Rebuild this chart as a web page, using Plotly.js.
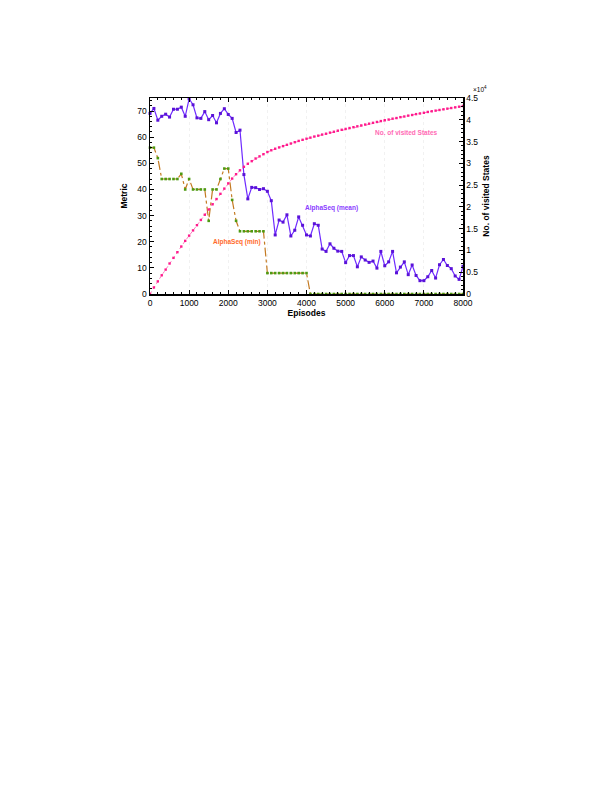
<!DOCTYPE html>
<html>
<head>
<meta charset="utf-8">
<script src="https://cdn.plot.ly/plotly-3.0.1.min.js"></script>
<style>
  html, body { margin: 0; padding: 0; background: #fff; }
  #chart { width: 608px; height: 787px; }
</style>
</head>
<body>
<div id="chart"></div>
<script>
// episodes sampled every 100
const episodes = [
  0, 100, 200, 300, 400, 500, 600, 700, 800, 900,
  1000, 1100, 1200, 1300, 1400, 1500, 1600, 1700, 1800, 1900,
  2000, 2100, 2200, 2300, 2400, 2500, 2600, 2700, 2800, 2900,
  3000, 3100, 3200, 3300, 3400, 3500, 3600, 3700, 3800, 3900,
  4000, 4100, 4200, 4300, 4400, 4500, 4600, 4700, 4800, 4900,
  5000, 5100, 5200, 5300, 5400, 5500, 5600, 5700, 5800, 5900,
  6000, 6100, 6200, 6300, 6400, 6500, 6600, 6700, 6800, 6900,
  7000, 7100, 7200, 7300, 7400, 7500, 7600, 7700, 7800, 7900,
  8000
];

const alphaSeqMean = [
  69.1, 71.0, 66.5, 68.0, 68.8, 67.7, 70.7, 70.7, 71.5, 68.0,
  74.7, 72.4, 67.4, 67.2, 69.8, 66.7, 68.3, 65.5, 69.1, 70.9,
  68.7, 67.2, 61.8, 62.7, 45.7, 36.4, 40.8, 40.7, 40.0, 40.3,
  39.3, 35.7, 22.6, 28.3, 27.5, 30.3, 22.2, 24.4, 29.5, 26.3,
  22.6, 22.2, 26.9, 26.3, 17.2, 16.3, 19.2, 17.5, 16.4, 16.3,
  12.0, 14.7, 14.7, 10.4, 14.2, 13.0, 12.1, 12.6, 9.9, 16.3,
  10.8, 12.3, 16.3, 8.1, 10.3, 12.3, 7.4, 11.1, 7.1, 5.1,
  5.1, 6.6, 9.0, 6.1, 11.2, 13.2, 10.9, 9.7, 6.9, 5.6,
  10.6
];

const alphaSeqMin = [
  56, 56, 52, 44, 44, 44, 44, 44, 46, 40,
  44, 40, 40, 40, 40, 28, 40, 40, 44, 48,
  48, 36, 28, 24, 24, 24, 24, 24, 24, 24,
  8, 8, 8, 8, 8, 8, 8, 8, 8, 8,
  8, 0, 0, 0, 0, 0, 0, 0, 0, 0,
  0, 0, 0, 0, 0, 0, 0, 0, 0, 0,
  0, 0, 0, 0, 0, 0, 0, 0, 0, 0,
  0, 0, 0, 0, 0, 0, 0, 0, 0, 0,
  0
];

const visitedStates = [
  0, 1500, 2900, 4300, 5600, 7000, 8300, 9600, 10900, 12200,
  13400, 14600, 15800, 17000, 18200, 19400, 20600, 21800, 23000, 24200,
  25400, 26500, 27500, 28400, 29200, 29900, 30500, 31100, 31600, 32100,
  32600, 33000, 33350, 33650, 33950, 34250, 34550, 34850, 35150, 35400,
  35650, 35900, 36150, 36350, 36600, 36800, 37050, 37250, 37500, 37700,
  37900, 38100, 38300, 38500, 38700, 38900, 39100, 39300, 39500, 39700,
  39900, 40050, 40250, 40400, 40600, 40750, 40950, 41100, 41300, 41450,
  41600, 41800, 41950, 42100, 42250, 42400, 42550, 42700, 42850, 43000,
  43150
];

const rightTickVals = [0, 5000, 10000, 15000, 20000, 25000, 30000, 35000, 40000, 45000];
const rightTickText = ["0", "0.5", "1", "1.5", "2", "2.5", "3", "3.5", "4", "4.5"];

const font = "Liberation Sans, Arial, sans-serif";

const traces = [
  {
    x: episodes, y: alphaSeqMin, name: "AlphaSeq (min)",
    type: "scatter", mode: "lines+markers", cliponaxis: false,
    line: { color: "#c47a22", width: 1.2, dash: "dashdot" },
    marker: { symbol: "square", size: 2.6, color: "#4e9a12" },
  },
  {
    x: episodes, y: alphaSeqMean, name: "AlphaSeq (mean)",
    type: "scatter", mode: "lines+markers", cliponaxis: false,
    line: { color: "#6f2bff", width: 1.2 },
    marker: { symbol: "square", size: 3, color: "#5a12d8" },
  },
  {
    x: episodes, y: visitedStates, name: "No. of visited States", yaxis: "y2",
    type: "scatter", mode: "lines+markers",
    line: { color: "#ff5aae", width: 0.8, dash: "dot" },
    marker: { symbol: "square", size: 2.4, color: "#ff1a8c" },
  },
];

const axisCommon = {
  showline: true, linecolor: "#000", linewidth: 1.5,
  ticks: "inside", ticklen: 4, tickwidth: 1, tickcolor: "#000",
  tickfont: { family: font, size: 8.5, color: "#000" },
  zeroline: false,
};

const layout = {
  width: 608, height: 787,
  margin: { l: 149.5, r: 145, t: 97.5, b: 493 },
  paper_bgcolor: "#fff", plot_bgcolor: "#fff",
  showlegend: false,
  font: { family: font, size: 8.5, color: "#000" },
  xaxis: Object.assign({}, axisCommon, {
    range: [0, 8000], dtick: 1000, mirror: "ticks",
    showgrid: true, gridcolor: "#e4e4e4", gridwidth: 0.5, griddash: "dot",
    minor: { ticks: "inside", dtick: 200, ticklen: 2, tickcolor: "#000", showgrid: false },
    title: { text: "<b>Episodes</b>", font: { family: font, size: 8.5 }, standoff: 1 },
  }),
  yaxis: Object.assign({}, axisCommon, {
    range: [0, 75], dtick: 10, showgrid: false,
    minor: { ticks: "inside", dtick: 2, ticklen: 2, tickcolor: "#000", showgrid: false },
    title: { text: "<b>Metric</b>", font: { family: font, size: 8.5 }, standoff: 8 },
  }),
  yaxis2: Object.assign({}, axisCommon, {
    overlaying: "y", side: "right", range: [0, 45000],
    tickvals: rightTickVals, ticktext: rightTickText, showgrid: false,
    minor: { ticks: "inside", dtick: 1000, ticklen: 2, tickcolor: "#000", showgrid: false },
    title: { text: "<b>No. of visited States</b>", font: { family: font, size: 8.5 }, standoff: 6 },
  }),
  annotations: [
    { x: 5710, y: 37170, xref: "x", yref: "y2", text: "<b>No. of visited States</b>", showarrow: false,
      font: { family: font, size: 6.5, color: "#ff6ab4" }, xanchor: "left" },
    { x: 3900, y: 33, xref: "x", yref: "y", text: "<b>AlphaSeq (mean)</b>", showarrow: false,
      font: { family: font, size: 6.5, color: "#8a3cff" }, xanchor: "left" },
    { x: 1565, y: 20, xref: "x", yref: "y", text: "<b>AlphaSeq (min)</b>", showarrow: false,
      font: { family: font, size: 6.5, color: "#ff6a2a" }, xanchor: "left" },
    { x: 1, y: 1, xref: "paper", yref: "paper", text: "×10<sup>4</sup>", showarrow: false,
      font: { family: font, size: 6.5, color: "#000" }, xanchor: "left", yanchor: "bottom",
      xshift: 8, yshift: 3 },
  ],
};

Plotly.newPlot("chart", traces, layout, { displayModeBar: false, staticPlot: true });
</script>
</body>
</html>
